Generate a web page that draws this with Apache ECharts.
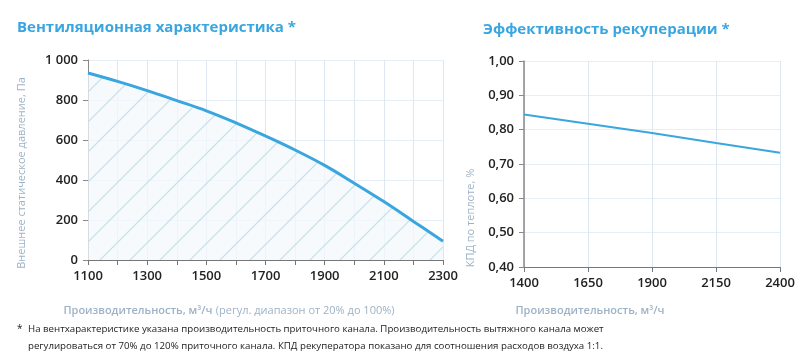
<!DOCTYPE html>
<html><head><meta charset="utf-8">
<script src="https://cdn.jsdelivr.net/npm/echarts@6/dist/echarts.min.js"></script>
<style>html,body{margin:0;padding:0;background:#fff}#c{width:800px;height:359px}</style>
</head><body><div id="c"></div>
<script>
// Data
const fanFlow = [1100,1200,1300,1400,1500,1600,1700,1800,1900,2000,2100,2200,2300];
const fanPressure = [935,893,847,797,746,686,620,550,473,384,292,193,94];
const fanXTicks = [1100,1300,1500,1700,1900,2100,2300];
const effFlow = ['1400','1650','1900','2150','2400'];
const effValues = [0.844,0.817,0.790,0.761,0.733];

const FONT = '"Open Sans", "Noto Sans", sans-serif';
const BLUE = '#3aa6e0';
const NAMECOL = '#9db2c6';

function hatch(){
  const c = document.createElement('canvas');
  c.width = 30; c.height = 30;
  const g = c.getContext('2d');
  g.fillStyle = 'rgba(243,248,252,0.75)';
  g.fillRect(0,0,30,30);
  g.strokeStyle = '#bfe0ec';
  g.lineWidth = 1.2;
  g.beginPath();
  g.moveTo(-2,32); g.lineTo(32,-2);
  g.moveTo(-2,2); g.lineTo(2,-2);
  g.moveTo(28,32); g.lineTo(32,28);
  g.stroke();
  return c;
}

const chart = echarts.init(document.getElementById('c'), null, {renderer:'canvas'});
const labelStyle = {color:'#222', fontSize:13, fontFamily:FONT, fontWeight:600};
chart.setOption({
  animation:false,
  grid:[
    {left:88, top:60, right:357, bottom:99},
    {left:524, top:61, right:20, bottom:92}
  ],
  xAxis:[
    {gridIndex:0, type:'value', min:1100, max:2300, interval:100,
     axisLine:{show:true, lineStyle:{color:'#777', width:1}},
     axisTick:{show:true, length:5, lineStyle:{color:'#777'}},
     axisLabel:Object.assign({margin:10, formatter:v=> fanXTicks.indexOf(v)>=0 ? String(v) : ''}, labelStyle),
     splitLine:{show:true, lineStyle:{color:'#dde8f3', width:1}}},
    {gridIndex:1, type:'category', data:effFlow, boundaryGap:false,
     axisLine:{show:true, lineStyle:{color:'#777', width:1}},
     axisTick:{show:true, length:5, alignWithLabel:true, lineStyle:{color:'#777'}},
     axisLabel:Object.assign({margin:10}, labelStyle),
     splitLine:{show:true, lineStyle:{color:'#dde8f3', width:1}}}
  ],
  yAxis:[
    {gridIndex:0, type:'value', min:0, max:1000, interval:200,
     axisLine:{show:true, lineStyle:{color:'#888', width:1}},
     axisTick:{show:true, length:5, inside:false, lineStyle:{color:'#888'}},
     axisLabel:Object.assign({margin:10, formatter:v=> v===1000 ? '1 000' : String(v)}, labelStyle),
     splitLine:{show:true, lineStyle:{color:'#e6eef6', width:1}}},
    {gridIndex:1, type:'value', min:0.4, max:1.0, interval:0.1,
     axisLine:{show:true, lineStyle:{color:'#888', width:1.5}},
     axisTick:{show:true, length:5, lineStyle:{color:'#888'}},
     axisLabel:Object.assign({margin:10, formatter:v=> v.toFixed(2).replace('.',',')}, labelStyle),
     splitLine:{show:true, lineStyle:{color:'#e6eef6', width:1}}}
  ],
  series:[
    {type:'line', xAxisIndex:0, yAxisIndex:0, smooth:0.4, showSymbol:false,
     data:fanFlow.map((x,i)=>[x,fanPressure[i]]),
     lineStyle:{color:BLUE, width:3},
     areaStyle:{color:{image:hatch(), repeat:'repeat'}, opacity:1}},
    {type:'line', xAxisIndex:1, yAxisIndex:1, showSymbol:false,
     data:effValues, lineStyle:{color:BLUE, width:2}}
  ],
  graphic:[
    {type:'text', left:17, top:20, style:{text:'Вентиляционная характеристика *', fill:BLUE, font:'bold 15px '+FONT}},
    {type:'text', left:483, top:22, style:{text:'Эффективность рекуперации *', fill:BLUE, font:'bold 15px '+FONT}},
    {type:'text', x:22, y:173, rotation:Math.PI/2, style:{text:'Внешнее статическое давление, Па', fill:NAMECOL, font:'11px '+FONT, align:'center', verticalAlign:'middle'}},
    {type:'text', x:471, y:218, rotation:Math.PI/2, style:{text:'КПД по теплоте, %', fill:NAMECOL, font:'11px '+FONT, align:'center', verticalAlign:'middle'}},
    {type:'text', x:229, y:311, style:{
      text:'{b|Производительность, м³/ч} {n|(регул. диапазон от 20% до 100%)}',
      align:'center', verticalAlign:'middle',
      rich:{b:{fill:NAMECOL, font:'600 11px '+FONT}, n:{fill:NAMECOL, font:'11px '+FONT}}}},
    {type:'text', x:590, y:311, style:{text:'Производительность, м³/ч', fill:NAMECOL, font:'600 11px '+FONT, align:'center', verticalAlign:'middle'}},
    {type:'text', x:17, y:329, style:{text:'*', fill:'#222', font:'10px '+FONT, verticalAlign:'middle'}},
    {type:'text', x:28, y:329, style:{text:'На вентхарактеристике указана производительность приточного канала. Производительность вытяжного канала может', fill:'#222', font:'9.7px '+FONT, verticalAlign:'middle'}},
    {type:'text', x:28, y:346, style:{text:'регулироваться от 70% до 120% приточного канала. КПД рекуператора показано для соотношения расходов воздуха 1:1.', fill:'#222', font:'9.7px '+FONT, verticalAlign:'middle'}}
  ]
});
</script></body></html>
